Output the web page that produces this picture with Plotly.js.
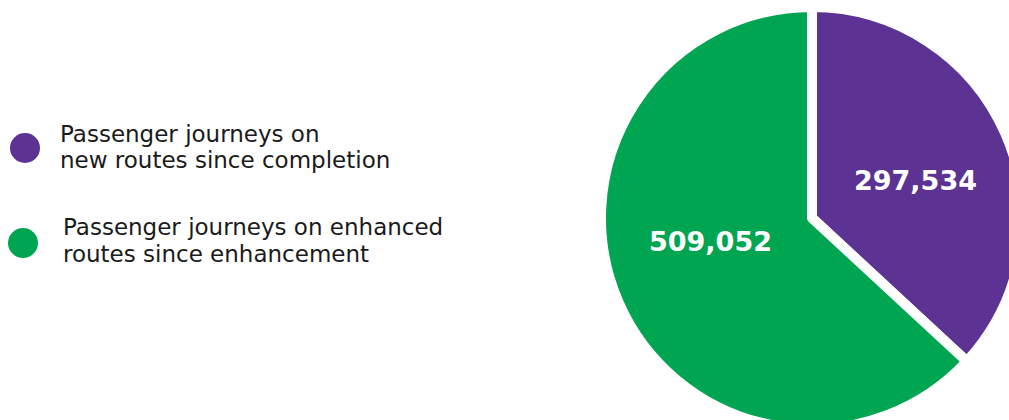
<!DOCTYPE html>
<html>
<head>
<meta charset="utf-8">
<script src="https://cdn.plot.ly/plotly-3.0.1.min.js"></script>
<style>
html,body{margin:0;padding:0;overflow:hidden;background:#fff;width:1009px;height:420px;}
#chart{width:1030px;height:440px;}
</style>
</head>
<body>
<div id="chart"></div>
<script>
const labels = ["Passenger journeys on<br>new routes since completion", "Passenger journeys on enhanced<br>routes since enhancement"];
const values = [297534, 509052];
const colors = ["#5C3293", "#00A551"];

const W = 1030, H = 440;
const px = x => x / W;
const py = y => 1 - y / H;

const cx = 812, cy = 218, R = 211;

const trace = {
  type: "pie",
  values: values,
  labels: labels,
  sort: false,
  direction: "clockwise",
  rotation: 0,
  marker: {colors: colors, line: {color: "#ffffff", width: 10}},
  textinfo: "none",
  hoverinfo: "none",
  domain: {x: [px(cx - R), px(cx + R)], y: [py(cy + R), py(cy - R)]},
  showlegend: false
};

const shapes = [], annotations = [];

// value labels inside slices
const valuePos = [[915, 180], [710, 241]];
values.forEach((v, i) => {
  annotations.push({xref: "paper", yref: "paper", x: px(valuePos[i][0]), y: py(valuePos[i][1]),
    xanchor: "center", yanchor: "middle", showarrow: false,
    text: v.toLocaleString("en-US"),
    font: {family: "DejaVu Sans, sans-serif", size: 27, color: "#ffffff", weight: 700}});
});

// custom legend
const legendY = [148, 243];
const legendX = [25, 23];
const textX = [58, 61];
const lineY = [[134, 160], [227, 254]];
labels.forEach((lab, i) => {
  const r = 15;
  shapes.push({type: "circle", xref: "paper", yref: "paper",
    x0: px(legendX[i] - r), x1: px(legendX[i] + r),
    y0: py(legendY[i] + r), y1: py(legendY[i] - r),
    fillcolor: colors[i], line: {width: 0}});
  lab.split("<br>").forEach((line, j) => {
    annotations.push({xref: "paper", yref: "paper", x: px(textX[i]), y: py(lineY[i][j]),
      xanchor: "left", yanchor: "middle", align: "left", showarrow: false,
      text: line, font: {family: "DejaVu Sans, sans-serif", size: 23, color: "#1a1a1a"}});
  });
});

Plotly.newPlot("chart", [trace], {
  width: W, height: H,
  margin: {l: 0, r: 0, t: 0, b: 0},
  paper_bgcolor: "#ffffff",
  shapes: shapes, annotations: annotations
}, {displayModeBar: false, staticPlot: true});
</script>
</body>
</html>
